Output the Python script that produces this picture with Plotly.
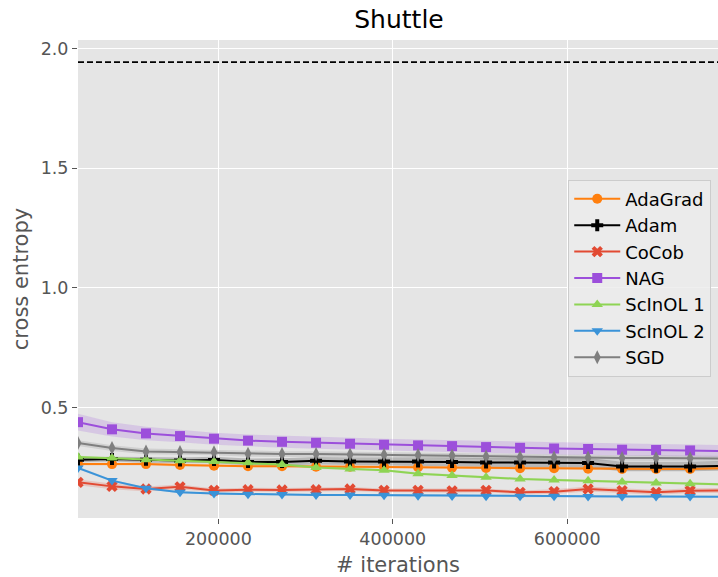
import plotly.graph_objects as go

iterations = [39000, 78000, 117000, 156000, 195000, 234000, 273000, 312000, 351000, 390000,
              429000, 468000, 507000, 546000, 585000, 624000, 663000, 702000, 741000, 780000]

adagrad = [0.265, 0.265, 0.265, 0.261, 0.258, 0.256, 0.256, 0.254, 0.254, 0.253,
           0.252, 0.250, 0.249, 0.248, 0.248, 0.246, 0.245, 0.245, 0.245, 0.248]
adam = [0.283, 0.286, 0.283, 0.280, 0.282, 0.274, 0.274, 0.279, 0.276, 0.276,
        0.276, 0.274, 0.272, 0.272, 0.272, 0.270, 0.255, 0.254, 0.255, 0.258]
cocob = [0.189, 0.172, 0.161, 0.170, 0.155, 0.158, 0.157, 0.158, 0.161, 0.155,
         0.155, 0.153, 0.155, 0.147, 0.150, 0.161, 0.154, 0.147, 0.154, 0.155]
nag = [0.440, 0.410, 0.393, 0.382, 0.371, 0.363, 0.358, 0.354, 0.350, 0.346,
       0.343, 0.340, 0.336, 0.333, 0.330, 0.328, 0.325, 0.324, 0.322, 0.319]
scinol1 = [0.295, 0.290, 0.283, 0.279, 0.276, 0.271, 0.263, 0.251, 0.245, 0.239,
           0.225, 0.217, 0.210, 0.203, 0.199, 0.195, 0.190, 0.186, 0.183, 0.180]
scinol2 = [0.249, 0.196, 0.164, 0.147, 0.142, 0.139, 0.138, 0.136, 0.136, 0.135,
           0.133, 0.132, 0.131, 0.131, 0.131, 0.130, 0.130, 0.130, 0.130, 0.129]
sgd = [0.353, 0.332, 0.318, 0.315, 0.314, 0.308, 0.307, 0.307, 0.305, 0.304,
       0.303, 0.301, 0.297, 0.294, 0.293, 0.292, 0.290, 0.290, 0.289, 0.288]

adagrad_std = [0.006, 0.006, 0.006, 0.006, 0.006, 0.006, 0.006, 0.006, 0.006, 0.006,
               0.006, 0.006, 0.006, 0.006, 0.006, 0.006, 0.006, 0.006, 0.006, 0.006]
adam_std = [0.010, 0.010, 0.012, 0.012, 0.014, 0.014, 0.015, 0.016, 0.016, 0.017,
            0.017, 0.018, 0.018, 0.019, 0.019, 0.020, 0.020, 0.020, 0.020, 0.020]
cocob_std = [0.012, 0.012, 0.010, 0.010, 0.008, 0.008, 0.008, 0.008, 0.008, 0.008,
             0.008, 0.008, 0.008, 0.008, 0.010, 0.010, 0.010, 0.010, 0.010, 0.010]
nag_std = [0.035, 0.030, 0.028, 0.026, 0.025, 0.025, 0.025, 0.025, 0.025, 0.025,
           0.025, 0.025, 0.025, 0.025, 0.025, 0.025, 0.025, 0.025, 0.025, 0.025]
scinol1_std = [0.005, 0.005, 0.005, 0.005, 0.005, 0.005, 0.005, 0.005, 0.005, 0.005,
               0.005, 0.005, 0.005, 0.005, 0.005, 0.005, 0.005, 0.005, 0.005, 0.005]
scinol2_std = [0.006, 0.005, 0.004, 0.004, 0.004, 0.004, 0.004, 0.004, 0.004, 0.004,
               0.004, 0.004, 0.004, 0.004, 0.004, 0.004, 0.004, 0.004, 0.004, 0.004]
sgd_std = [0.012, 0.012, 0.012, 0.012, 0.012, 0.012, 0.012, 0.012, 0.012, 0.012,
           0.012, 0.012, 0.012, 0.012, 0.012, 0.012, 0.012, 0.012, 0.012, 0.012]

baseline_value = 1.943

series_names = ["AdaGrad", "Adam", "CoCob", "NAG", "ScInOL 1", "ScInOL 2", "SGD"]
series_values = [adagrad, adam, cocob, nag, scinol1, scinol2, sgd]
series_std = [adagrad_std, adam_std, cocob_std, nag_std, scinol1_std, scinol2_std, sgd_std]
series_colors = ["#ff7f0e", "#000000", "#e24a33", "#9c4fdb", "#8ed454", "#3a93d8", "#7f7f7f"]
series_markers = ["circle", "cross", "x", "square", "triangle-up", "triangle-down", "diamond-tall"]


def rgba(hex_color, a):
    h = hex_color.lstrip("#")
    r, g, b = int(h[0:2], 16), int(h[2:4], 16), int(h[4:6], 16)
    return f"rgba({r},{g},{b},{a})"


fig = go.Figure()

# shaded bands first
for name, vals, std, col in zip(series_names, series_values, series_std, series_colors):
    upper = [v + s for v, s in zip(vals, std)]
    lower = [v - s for v, s in zip(vals, std)]
    fig.add_trace(go.Scatter(
        x=iterations + iterations[::-1],
        y=upper + lower[::-1],
        fill="toself",
        fillcolor=rgba(col, 0.2),
        line=dict(width=0),
        hoverinfo="skip",
        showlegend=False,
        mode="lines",
    ))

for name, vals, col, mk in zip(series_names, series_values, series_colors, series_markers):
    fig.add_trace(go.Scatter(
        x=iterations, y=vals, name=name, mode="lines+markers",
        line=dict(color=col, width=2),
        marker=dict(symbol=mk, size=10, color=col, line=dict(width=0)),
    ))

fig.add_hline(y=baseline_value, line=dict(color="black", width=1.8, dash="6px,3px"))

fig.update_layout(
    width=718, height=577,
    margin=dict(l=78, r=0, t=40, b=59),
    paper_bgcolor="white",
    plot_bgcolor="#e5e5e5",
    font=dict(family="DejaVu Sans", color="#555555", size=17.5),
    title=dict(text="Shuttle", x=(399 / 718), xanchor="center", y=1 - 19 / 577, yanchor="middle",
               font=dict(size=25, color="black")),
    legend=dict(
        x=0.766, y=0.708, xanchor="left", yanchor="top",
        bgcolor="rgba(236,236,236,0.85)", bordercolor="#cccccc", borderwidth=1,
        font=dict(size=18, color="black"),
        itemwidth=46,
    ),
)

fig.update_xaxes(
    range=[39000, 773000],
    tickvals=[200000, 400000, 600000],
    ticktext=["200000", "400000", "600000"],
    showgrid=True, gridcolor="white", gridwidth=1.3,
    zeroline=False, showline=False,
    ticks="outside", ticklen=5, tickcolor="#555555",
    tickfont=dict(size=17.5),
    title=dict(text="# iterations", font=dict(size=21, color="#555555"), standoff=9),
)
fig.update_yaxes(
    range=[0.04, 2.035],
    tickvals=[0.5, 1.0, 1.5, 2.0],
    ticktext=["0.5", "1.0", "1.5", "2.0"],
    showgrid=True, gridcolor="white", gridwidth=1.3,
    zeroline=False, showline=False,
    ticks="outside", ticklen=5, tickcolor="#555555",
    tickfont=dict(size=17.5),
    title=dict(text="cross entropy", font=dict(size=21, color="#555555"), standoff=6),
)

fig.write_html("out.html")
